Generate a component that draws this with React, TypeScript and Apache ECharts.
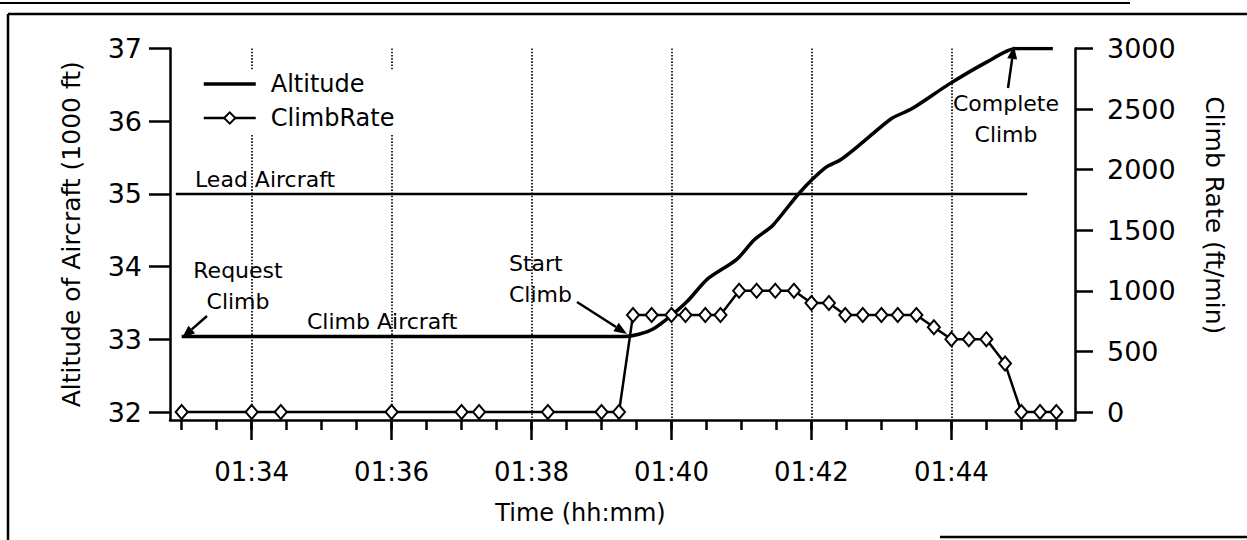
import React, { useEffect, useRef } from "react";
import * as echarts from "echarts";

const FONT = '"DejaVu Sans", "Liberation Sans", sans-serif';

// Climb rate samples (ft/min), right axis
const climbTimes = [
  "01:33:00", "01:34:00", "01:34:25", "01:36:00", "01:37:00", "01:37:15", "01:38:14",
  "01:39:00", "01:39:15", "01:39:27", "01:39:43", "01:40:00", "01:40:12", "01:40:29",
  "01:40:42", "01:40:58", "01:41:13", "01:41:29", "01:41:45", "01:42:00", "01:42:15",
  "01:42:29", "01:42:44", "01:43:00", "01:43:14", "01:43:30", "01:43:45", "01:44:00",
  "01:44:15", "01:44:30", "01:44:46", "01:45:00", "01:45:16", "01:45:30",
];
const climbRates = [
  0, 0, 0, 0, 0, 0, 0,
  0, 0, 800, 800, 800, 800, 800,
  800, 1000, 1000, 1000, 1000, 900, 900,
  800, 800, 800, 800, 800, 700, 600,
  600, 600, 400, 0, 0, 0,
];

// Altitude of climbing aircraft (1000 ft), left axis
const altitudeTimes = [
  "01:33:00", "01:39:20", "01:39:32", "01:39:45", "01:40:00", "01:40:14", "01:40:31",
  "01:40:56", "01:41:11", "01:41:27", "01:41:50", "01:42:12", "01:42:25", "01:42:41",
  "01:43:09", "01:43:26", "01:43:58", "01:44:31", "01:44:55", "01:45:27",
];
const altitudeValues = [
  33.04, 33.04, 33.07, 33.15, 33.33, 33.53, 33.83,
  34.1, 34.37, 34.57, 35.02, 35.36, 35.47, 35.67,
  36.04, 36.17, 36.51, 36.82, 37.0, 37.0,
];

// Lead aircraft altitude (1000 ft)
const leadTimes = ["01:32:55", "01:45:05"];
const leadValues = [35, 35];

// Axis ticks
const majorTickTimes = ["01:34", "01:36", "01:38", "01:40", "01:42", "01:44"];
const minorTickTimes = [
  "01:33:00", "01:33:30", "01:34:00", "01:34:30", "01:35:00", "01:35:30", "01:36:00",
  "01:36:30", "01:37:00", "01:37:30", "01:38:00", "01:38:30", "01:39:00", "01:39:30",
  "01:40:00", "01:40:30", "01:41:00", "01:41:30", "01:42:00", "01:42:30", "01:43:00",
  "01:43:30", "01:44:00", "01:44:30", "01:45:00", "01:45:30",
];
const altitudeTicks = [32, 33, 34, 35, 36, 37];
const climbRateTicks = [0, 500, 1000, 1500, 2000, 2500, 3000];
const xStart = "01:32:50";
const xEnd = "01:45:46";

function toSec(t: string): number {
  const p = t.split(":").map(Number);
  return p[0] * 3600 + p[1] * 60 + (p[2] || 0);
}
function fmt(s: number): string {
  const h = Math.floor(s / 3600);
  const m = Math.floor((s % 3600) / 60);
  return String(h).padStart(2, "0") + ":" + String(m).padStart(2, "0");
}

function arrow(x1: number, y1: number, x2: number, y2: number, len = 13, half = 5) {
  const dx = x2 - x1;
  const dy = y2 - y1;
  const d = Math.sqrt(dx * dx + dy * dy);
  const ux = dx / d;
  const uy = dy / d;
  const bx = x2 - ux * len;
  const by = y2 - uy * len;
  const px = -uy * half;
  const py = ux * half;
  return [
    {
      type: "line",
      shape: { x1, y1, x2: bx, y2: by },
      style: { stroke: "#000", lineWidth: 2.5 },
      z: 50,
    },
    {
      type: "polygon",
      shape: { points: [[x2, y2], [bx + px, by + py], [bx - px, by - py]] },
      style: { fill: "#000" },
      z: 50,
    },
  ];
}

function txt(text: string, x: number, y: number, align: string, size = 22) {
  return {
    type: "text",
    x,
    y,
    z: 50,
    style: {
      text,
      fill: "#000",
      font: `${size}px ${FONT}`,
      align,
      verticalAlign: "middle",
      lineHeight: 31,
    },
  };
}

export default function App() {
  const ref = useRef<HTMLDivElement>(null);

  useEffect(() => {
    if (!ref.current) return;
    const chart = echarts.init(ref.current, undefined, { renderer: "svg" });

    const majors = majorTickTimes.map(toSec);
    const minors = minorTickTimes.map(toSec);
    const xMin = toSec(xStart);
    const xMax = toSec(xEnd);

    const axisCommon = {
      type: "value",
      min: xMin,
      max: xMax,
      position: "bottom",
    };

    const option: any = {
      animation: false,
      backgroundColor: "#fff",
      textStyle: { fontFamily: FONT, color: "#000" },
      grid: { left: 170, right: 172, top: 48.5, bottom: 120, containLabel: false },
      legend: {
        data: [
          {
            name: "Altitude",
            itemStyle: { color: "rgba(0,0,0,0)", borderColor: "rgba(0,0,0,0)", borderWidth: 0 },
            lineStyle: { width: 3.5, color: "#000" },
          },
          { name: "ClimbRate", lineStyle: { width: 2.5, color: "#000" } },
        ],
        orient: "vertical",
        left: 198,
        top: 70,
        itemWidth: 52,
        itemHeight: 14,
        itemGap: 10,
        backgroundColor: "#fff",
        padding: [2, 6, 4, 4],
        textStyle: { fontSize: 24, fontFamily: FONT, color: "#000", padding: [0, 0, 0, 10] },
      },
      xAxis: [
        {
          ...axisCommon,
          axisLine: { show: true, onZero: false, lineStyle: { color: "#000", width: 2.5 } },
          axisTick: {
            show: true,
            customValues: majors,
            length: 20,
            lineStyle: { color: "#000", width: 2.5 },
          },
          axisLabel: {
            customValues: majors,
            formatter: (v: number) => fmt(v),
            fontSize: 26,
            fontFamily: FONT,
            color: "#000",
            margin: 39,
          },
          splitLine: { show: true, lineStyle: { type: "dotted", color: "#000", width: 1.6 } },
          name: "Time (hh:mm)",
          nameLocation: "middle",
          nameGap: 81,
          nameTextStyle: { fontSize: 24, fontFamily: FONT, color: "#000", padding: [0, 84, 0, 0] },
        },
        {
          ...axisCommon,
          axisLine: { show: false, onZero: false },
          axisTick: {
            show: true,
            customValues: minors,
            length: 10,
            lineStyle: { color: "#000", width: 2.5 },
          },
          axisLabel: { show: false },
          splitLine: { show: false },
        },
      ],
      yAxis: [
        {
          type: "value",
          position: "left",
          min: 31.89,
          max: 37,
          axisLine: { show: true, lineStyle: { color: "#000", width: 2.5 } },
          axisTick: {
            show: true,
            customValues: altitudeTicks,
            length: 21,
            lineStyle: { color: "#000", width: 2.5 },
          },
          axisLabel: {
            customValues: altitudeTicks,
            formatter: (v: number) => String(v),
            fontSize: 27,
            fontFamily: FONT,
            color: "#000",
            margin: 28,
          },
          splitLine: { show: false },
          name: "Altitude of Aircraft (1000 ft)",
          nameLocation: "middle",
          nameRotate: 90,
          nameGap: 86,
          nameTextStyle: { fontSize: 25, fontFamily: FONT, color: "#000" },
        },
        {
          type: "value",
          position: "right",
          min: -66,
          max: 3000,
          axisLine: { show: true, lineStyle: { color: "#000", width: 2.5 } },
          axisTick: {
            show: true,
            customValues: climbRateTicks,
            length: 18,
            lineStyle: { color: "#000", width: 2.5 },
          },
          axisLabel: {
            customValues: climbRateTicks,
            formatter: (v: number) => String(v),
            fontSize: 27,
            fontFamily: FONT,
            color: "#000",
            margin: 32,
          },
          splitLine: { show: false },
          name: "Climb Rate (ft/min)",
          nameLocation: "middle",
          nameRotate: -90,
          nameGap: 127,
          nameTextStyle: { fontSize: 25, fontFamily: FONT, color: "#000", padding: [0, 38, 0, 0] },
        },
      ],
      series: [
        {
          name: "Lead Aircraft",
          type: "line",
          xAxisIndex: 0,
          yAxisIndex: 0,
          data: leadTimes.map((t, i) => [toSec(t), leadValues[i]]),
          symbol: "none",
          color: "#000",
          lineStyle: { color: "#000", width: 2.5 },
          z: 3,
        },
        {
          name: "Altitude",
          type: "line",
          xAxisIndex: 0,
          yAxisIndex: 0,
          data: altitudeTimes.map((t, i) => [toSec(t), altitudeValues[i]]),
          symbol: "none",
          smooth: 0.25,
          color: "#000",
          lineStyle: { color: "#000", width: 3.5 },
          z: 3,
        },
        {
          name: "ClimbRate",
          type: "line",
          xAxisIndex: 0,
          yAxisIndex: 1,
          data: climbTimes.map((t, i) => [toSec(t), climbRates[i]]),
          symbol: "diamond",
          symbolSize: [12, 14],
          showAllSymbol: true,
          color: "#000",
          itemStyle: { color: "#fff", borderColor: "#000", borderWidth: 2 },
          lineStyle: { color: "#000", width: 2.5 },
          z: 4,
        },
      ],
      graphic: [
        // scan frame
        { type: "line", shape: { x1: 0, y1: 3, x2: 1130, y2: 3 }, style: { stroke: "#000", lineWidth: 2 } },
        { type: "line", shape: { x1: 8, y1: 14, x2: 1247, y2: 14 }, style: { stroke: "#000", lineWidth: 2.5 } },
        { type: "line", shape: { x1: 8, y1: 14, x2: 8, y2: 540 }, style: { stroke: "#000", lineWidth: 2.5 } },
        { type: "line", shape: { x1: 940, y1: 537, x2: 1247, y2: 537 }, style: { stroke: "#000", lineWidth: 2.5 } },
        // annotations
        txt("Lead Aircraft", 195, 179, "left"),
        txt("Request\nClimb", 238, 286, "center"),
        txt("Climb Aircraft", 307, 321, "left"),
        txt("Start\nClimb", 509, 279, "left"),
        txt("Complete\nClimb", 1006, 119, "center"),
        ...arrow(207, 316, 182, 338),
        ...arrow(577, 302, 627, 334),
        ...arrow(1008, 88, 1014, 46),
      ],
    };

    chart.setOption(option);
    return () => chart.dispose();
  }, []);

  return (
    <div
      ref={ref}
      style={{ position: "absolute", left: 0, top: 0, width: 1247, height: 540, background: "#fff" }}
    />
  );
}
